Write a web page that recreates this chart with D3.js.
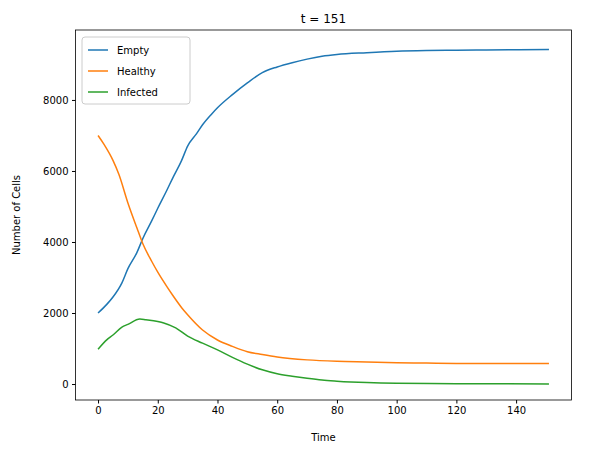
<!DOCTYPE html>
<html><head><meta charset="utf-8">
<script src="https://cdn.jsdelivr.net/npm/d3@7"></script>
<style>body{margin:0;background:#fff}text{font-family:"DejaVu Sans",sans-serif}</style>
</head><body><svg id="c" width="604" height="453"></svg>
<script>
const tEmpty=[0,3,5,8,10,13,15,18,20,23,25,28,30,33,35,38,40,45,50,55,60,65,70,75,80,90,100,110,120,130,140,151];
const empty=[2000,2250,2450,2850,3250,3700,4100,4600,4950,5450,5800,6300,6700,7050,7300,7600,7780,8150,8480,8770,8930,9050,9150,9230,9280,9330,9370,9390,9400,9410,9415,9420];
const tHealthy=[0,2,5,7,10,13,15,18,20,23,25,28,30,35,40,45,50,55,60,70,80,90,100,110,120,140,151];
const healthy=[7000,6750,6300,5900,5100,4400,3950,3450,3150,2750,2500,2150,1950,1520,1240,1060,910,830,760,680,640,620,600,590,580,575,575];
const tInfected=[0,3,5,8,10,14,16,20,22,26,30,35,40,45,50,55,60,65,70,75,80,90,100,120,151];
const infected=[980,1250,1380,1600,1680,1830,1810,1760,1720,1580,1350,1150,960,750,560,400,290,220,160,110,80,40,20,8,2];
const xTicks=[0,20,40,60,80,100,120,140];
const yTicks=[0,2000,4000,6000,8000];
const series=[{name:"Empty",t:tEmpty,v:empty,c:"#1f77b4"},{name:"Healthy",t:tHealthy,v:healthy,c:"#ff7f0e"},{name:"Infected",t:tInfected,v:infected,c:"#2ca02c"}];
const L=75.5,R=571.5,T=30,B=400;
const x=d3.scaleLinear().domain([-7.55,158.55]).range([L,R]);
const y=d3.scaleLinear().domain([-450,9970]).range([B,T]);
const svg=d3.select("#c");
svg.append("g").attr("transform",`translate(0,${B})`).call(d3.axisBottom(x).tickValues(xTicks).tickFormat(d3.format("d")).tickSize(3.5).tickPadding(3.5)).call(g=>g.select(".domain").remove()).selectAll("text").attr("font-size",10).attr("fill","#000");
svg.append("g").attr("transform",`translate(${L},0)`).call(d3.axisLeft(y).tickValues(yTicks).tickFormat(d3.format("d")).tickSize(3.5).tickPadding(3.5)).call(g=>g.select(".domain").remove()).selectAll("text").attr("font-size",10).attr("fill","#000");
const line=d3.line().curve(d3.curveMonotoneX).x(d=>x(d[0])).y(d=>y(d[1]));
series.forEach(s=>svg.append("path").attr("d",line(s.t.map((t,i)=>[t,s.v[i]]))).attr("fill","none").attr("stroke",s.c).attr("stroke-width",1.5));
svg.append("rect").attr("x",L).attr("y",T).attr("width",R-L).attr("height",B-T).attr("fill","none").attr("stroke","#000").attr("stroke-width",0.8);
svg.append("text").attr("x",(L+R)/2).attr("y",23).attr("text-anchor","middle").attr("font-size",12).text("t = 151");
svg.append("text").attr("x",(L+R)/2).attr("y",441).attr("text-anchor","middle").attr("font-size",10).text("Time");
svg.append("text").attr("transform",`translate(20,${(T+B)/2}) rotate(-90)`).attr("text-anchor","middle").attr("font-size",10).text("Number of Cells");
const lg=svg.append("g").attr("transform","translate(82,37)");
lg.append("rect").attr("width",108).attr("height",67).attr("rx",3).attr("fill","#fff").attr("fill-opacity",0.8).attr("stroke","#ccc");
series.forEach((s,i)=>{const yy=13+i*21;
lg.append("line").attr("x1",6).attr("x2",26).attr("y1",yy).attr("y2",yy).attr("stroke",s.c).attr("stroke-width",1.5);
lg.append("text").attr("x",35).attr("y",yy+4).attr("font-size",10).text(s.name);});
</script></body></html>
